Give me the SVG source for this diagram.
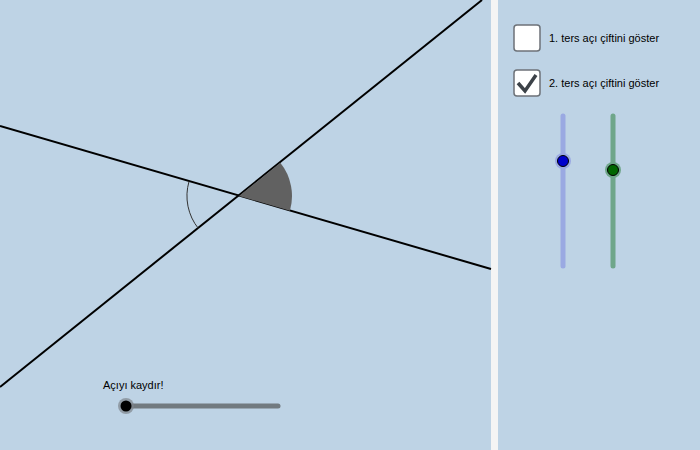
<svg xmlns="http://www.w3.org/2000/svg" width="700" height="450" viewBox="0 0 700 450">
<style>
text{font-family:"Liberation Sans",Arial,sans-serif;font-size:11px;fill:#000}
.ln{stroke:#000;stroke-width:2;fill:none}
.cb{fill:#fff;stroke:#6d7278;stroke-width:1.5}
</style>
<rect width="700" height="450" fill="#bed3e5"/>
<rect x="491" y="0" width="7" height="450" fill="#f4f4f4"/>
<g id="connectors">
<line class="ln" x1="0" y1="126" x2="491" y2="269"/>
<line class="ln" x1="0" y1="387" x2="482" y2="0"/>
</g>
<g id="angle-filled"><path d="M239,196 L280.3,162.8 A53,53 0 0 1 289.9,210.8 Z" fill="#616161"/></g>
<g id="angle-arc"><path d="M189,181.5 A52,52 0 0 0 198.5,228.6" fill="none" stroke="#333" stroke-width="1"/></g>
<g id="slider-main">
<text x="103" y="389">Açıyı kaydır!</text>
<line x1="126" y1="406" x2="278" y2="406" stroke="#727a80" stroke-width="5" stroke-linecap="round"/>
<circle cx="126" cy="406" r="8" fill="#7d858b" opacity="0.7"/>
<circle cx="126" cy="406" r="5.5" fill="#000"/>
</g>
<g id="checkbox1">
<rect class="cb" x="514" y="25" width="26" height="26" rx="3"/>
<text x="549" y="42">1. ters açı çiftini göster</text>
</g>
<g id="checkbox2">
<rect class="cb" x="514" y="70" width="26" height="26" rx="3"/>
<path d="M518,83 L525,91 L536,75" fill="none" stroke="#3c4248" stroke-width="3.5"/>
<text x="549" y="87">2. ters açı çiftini göster</text>
</g>
<g id="slider-blue">
<line x1="563" y1="116" x2="563" y2="266" stroke="#9aa9e2" stroke-width="5" stroke-linecap="round"/>
<circle cx="563" cy="161" r="8" fill="#9aa9e2"/>
<circle cx="563" cy="161" r="5.5" fill="#0000cc" stroke="#000" stroke-width="1"/>
</g>
<g id="slider-green">
<line x1="613" y1="116" x2="613" y2="266" stroke="#6fa68a" stroke-width="5" stroke-linecap="round"/>
<circle cx="613" cy="170" r="8" fill="#6fa68a"/>
<circle cx="613" cy="170" r="5.5" fill="#006600" stroke="#000" stroke-width="1"/>
</g>
</svg>
